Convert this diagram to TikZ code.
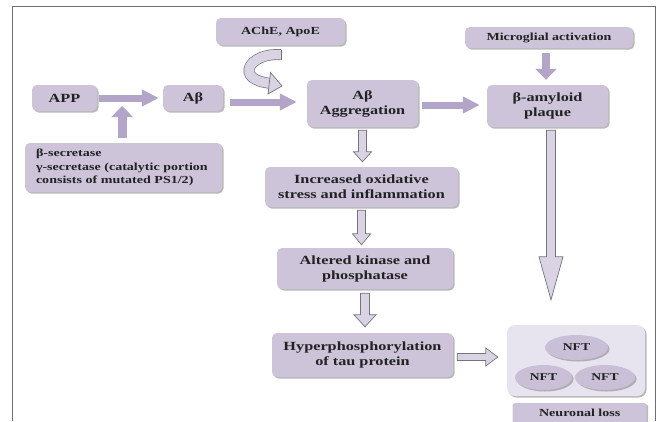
\documentclass[tikz,border=0pt]{standalone}
\usepackage{fontspec}
\setmainfont[FakeStretch=1.3]{Liberation Serif}
\usetikzlibrary{shadows,calc,arrows.meta,shapes.geometric}
\definecolor{boxfill}{HTML}{CDC4DA}
\definecolor{arrfill}{HTML}{B3A5C8}
\definecolor{hollowfill}{HTML}{DAD3E4}
\definecolor{hollowline}{HTML}{74747C}
\definecolor{lightbox}{HTML}{E8E4EF}
\definecolor{ellfill}{HTML}{C9BFD7}
\definecolor{framecol}{HTML}{6E6E6E}
\definecolor{txt}{HTML}{222222}
\newcommand\hdown[5]{\draw[hollow] let \p1=(#1), \p2=(#2) in
  (\x1-#3pt,\y1) -- (\x1-#3pt,\y2+#5pt) -- (\x1-#4pt,\y2+#5pt) -- (\x1,\y2)
  -- (\x1+#4pt,\y2+#5pt) -- (\x1+#3pt,\y2+#5pt) -- (\x1+#3pt,\y1) -- cycle;}
\newcommand\hright[5]{\draw[hollow] let \p1=(#1), \p2=(#2) in
  (\x1,\y1+#3pt) -- (\x2-#5pt,\y1+#3pt) -- (\x2-#5pt,\y1+#4pt) -- (\x2,\y1)
  -- (\x2-#5pt,\y1-#4pt) -- (\x2-#5pt,\y1-#3pt) -- (\x1,\y1-#3pt) -- cycle;}
\begin{document}
\begin{tikzpicture}[x=1pt,y=-1pt,
  shad/.style={drop shadow={shadow xshift=1.5pt,shadow yshift=-1.5pt,fill=black!50,opacity=0.55}},
  box/.style={fill=boxfill, rounded corners=5pt, shad, inner sep=0pt, align=center,
    text=txt, font=\fontsize{12.5}{15}\selectfont\bfseries},
  smallbox/.style={box, font=\fontsize{10.8}{13.3}\selectfont\bfseries},
  fa/.style={arrfill, line width=7pt, -{Triangle[length=17pt,width=16pt]}},
  fb/.style={arrfill, line width=9pt, -{Triangle[length=11pt,width=21pt]}},
  hollow/.style={draw=hollowline, fill=hollowfill, line width=0.7pt, line join=miter},
  nft/.style={ellipse, fill=ellfill, shad, inner sep=0pt, minimum width=60pt, minimum height=25pt,
    text=txt, font=\fontsize{10.5}{13}\selectfont\bfseries}]
\useasboundingbox (0,0) rectangle (659,421);
\fill[white] (0,0) rectangle (659,421);
\draw[framecol, line width=1pt] (12,421) -- (12,6) -- (655,6) -- (655,421);

% boxes
\node[box, minimum width=65pt, minimum height=26pt] (app) at (64.5,98) {APP};
\node[box, minimum width=60pt, minimum height=26pt] (ab) at (193,98) {Aβ};
\node[smallbox, minimum width=129pt, minimum height=27pt] (ache) at (280.5,31.5) {AChE, ApoE};
\node[smallbox, minimum height=49pt, text width=175pt, inner xsep=11pt, align=left] (sec) at (123.5,167.5)
  {β-secretase\\ γ-secretase (catalytic portion\\ consists of mutated PS1/2)};
\node[box, minimum width=111pt, minimum height=47pt] (agg) at (362.5,103.5) {Aβ\\ Aggregation};
\node[smallbox, minimum width=168pt, minimum height=21pt] (micro) at (549,37.5) {Microglial activation};
\node[box, minimum width=121pt, minimum height=42pt] (plaque) at (547.5,106) {β-amyloid\\ plaque};
\node[box, minimum width=193pt, minimum height=40pt] (ox) at (361.5,187) {Increased oxidative\\ stress and inflammation};
\node[box, minimum width=176pt, minimum height=41pt] (alt) at (365,268.5) {Altered kinase and\\ phosphatase};
\node[box, minimum width=181pt, minimum height=44pt] (hyp) at (362.5,355) {Hyperphosphorylation\\ of tau protein};
\node[fill=lightbox, rounded corners=8pt, shad, minimum width=138pt, minimum height=71pt] (cont) at (576,360.5) {};
\node[nft, minimum width=63pt] (n1) at (576.5,347.5) {NFT};
\node[nft, minimum width=57pt] (n2) at (543.5,377.5) {NFT};
\node[nft, minimum width=60pt] (n3) at (605,377.5) {NFT};
\node[smallbox, rounded corners=2pt, anchor=north, minimum width=134pt, inner ysep=6pt, text depth=15pt] (loss) at (579.7,403) {Neuronal loss};

% filled arrows
\coordinate (m) at ($(app.east)!0.38!(ab.west)$);
\draw[fa, shorten <=2pt, shorten >=4pt] (app) -- (ab);
\draw[fb, shorten <=5pt] (sec.north -| m) -- ($(m)+(0,8)$);
\draw[fa, shorten <=7pt, shorten >=10pt] ([yshift=-4pt]ab.east) -- ([yshift=-4pt]ab.east -| agg.west);
\draw[fa, shorten <=4pt, shorten >=7pt] ([yshift=-1.5pt]agg.east) -- ([yshift=-1.5pt]agg.east -| plaque.west);
\draw[fb, line width=8pt, shorten <=5pt, shorten >=5pt] ([xshift=-3pt]micro.south) -- ([xshift=-3pt]micro.south |- plaque.north);

% hollow arrows
\hdown{[yshift=-3pt]agg.south}{[yshift=5pt]ox.north}{4}{9}{10}
\hdown{[yshift=-3pt]ox.south}{[yshift=3pt]alt.north}{4}{9}{11}
\hdown{[yshift=-4pt]alt.south}{[yshift=6pt]hyp.north}{4.5}{11}{12}
\hdown{[xshift=3.5pt,yshift=-3pt]plaque.south}{[yshift=25pt]cont.north}{4.5}{12}{43}
\hright{[xshift=4pt,yshift=-2pt]hyp.east}{[xshift=-9pt]cont.west}{3.5}{9}{12}

% curved arrow from AChE, ApoE
\coordinate (cs) at ($(ache.south)+(0.5,9.5)$);
\draw[draw=hollowline, line width=0.7pt, double=hollowfill, double distance=9.5pt]
  (cs) .. controls (250,52) and (232,80) .. (272,83.5);
\draw[hollowline, line width=0.7pt] ($(cs)+(0,-5.1)$) -- ($(cs)+(0,5.1)$);
\draw[hollow] (270.5,72.5) -- (282,86) -- (268,94) -- cycle;
\end{tikzpicture}
\end{document}
